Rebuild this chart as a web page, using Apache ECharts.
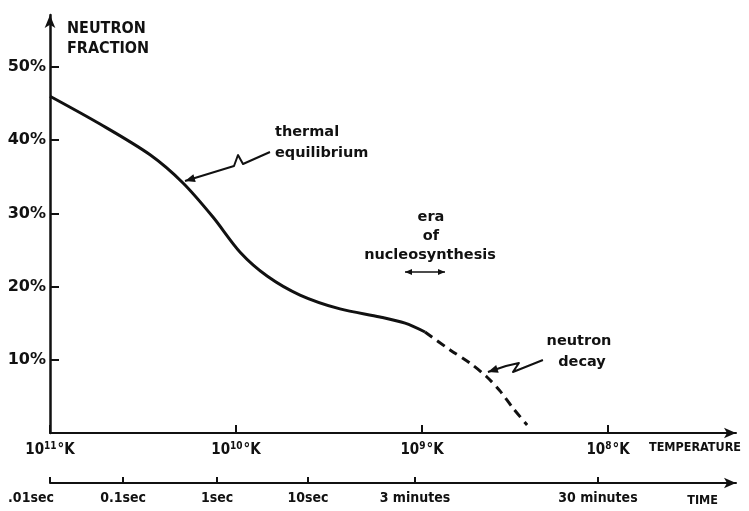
<!DOCTYPE html>
<html><head><meta charset="utf-8">
<script src="https://cdn.jsdelivr.net/npm/echarts@6/dist/echarts.min.js"></script>
<style>html,body{margin:0;padding:0;background:#fff}#c{width:749px;height:511px}</style>
</head><body><div id="c"></div>
<script>
// ---- data (temperature as log10 of kelvin, neutron fraction in %) ----
const equilTempExp = [11.0, 10.731, 10.462, 10.285, 10.124, 9.978, 9.833, 9.656, 9.441, 9.226, 9.091, 8.984];
const equilPct     = [46.0, 42.2, 38.0, 34.15, 29.5, 24.7, 21.45, 18.85, 16.95, 15.85, 15.0, 13.8];
const decayTempExp = [8.984, 8.849, 8.742, 8.651, 8.581, 8.511, 8.435];
const decayPct     = [13.8, 11.35, 9.55, 7.65, 5.75, 3.4, 1.1];
const tempTickExp  = [11, 10, 9, 8];
const yTicks       = [10, 20, 30, 40, 50];
const timeLabels   = ['.01sec', '0.1sec', '1sec', '10sec', '3 minutes', '30 minutes'];
const timeTickExp  = [11, 10.607, 10.102, 9.613, 9.038, 8.054];

const INK = '#111';
const FONT = '"DejaVu Sans", sans-serif';
const COND = '"DejaVu Sans Condensed", "Liberation Sans Narrow", "DejaVu Sans", sans-serif';
const toX = e => -e;

const chart = echarts.init(document.getElementById('c'), null, {renderer: 'canvas'});

const option = {
  backgroundColor: '#fff',
  animation: false,
  grid: {left: 50, right: 13, top: 15, bottom: 78, containLabel: false, outerBoundsMode: 'none'},
  xAxis: [{
    type: 'value', min: -11, max: -7.312, position: 'bottom',
    splitLine: {show: false},
    axisLine: {show: true, onZero: false, symbol: ['none', 'arrow'], symbolSize: [8, 12], lineStyle: {color: INK, width: 2}},
    axisTick: {show: true, inside: true, length: 8, lineStyle: {color: INK, width: 2}, customValues: tempTickExp.map(toX)},
    axisLabel: {
      show: true, margin: 8, color: INK, fontFamily: COND, fontWeight: 'bold', fontSize: 15,
      customValues: tempTickExp.map(toX),
      formatter: v => '{n|10}{e|' + Math.round(-v) + '}{n|°K}',
      rich: {
        n: {fontFamily: COND, fontWeight: 'bold', fontSize: 15, color: INK, lineHeight: 18},
        e: {fontFamily: COND, fontWeight: 'bold', fontSize: 10, color: INK, verticalAlign: 'top', lineHeight: 18, padding: [0, 1, 7, 0]}
      }
    }
  }, {
    type: 'value', min: -11, max: -7.312, position: 'bottom', offset: 50,
    splitLine: {show: false},
    axisLine: {show: true, onZero: false, symbol: ['none', 'arrow'], symbolSize: [8, 12], lineStyle: {color: INK, width: 2}},
    axisTick: {show: true, inside: true, length: 6, lineStyle: {color: INK, width: 2}, customValues: timeTickExp.map(toX)},
    axisLabel: {
      show: true, margin: 8, color: INK, fontFamily: COND, fontWeight: 'bold', fontSize: 14,
      customValues: timeTickExp.map(toX),
      formatter: v => {
        const i = timeTickExp.findIndex(t => Math.abs(-t - v) < 1e-6);
        const s = i >= 0 ? timeLabels[i] : '';
        return i === 0 ? '{f|' + s + '}' : s;
      },
      rich: {f: {fontFamily: COND, fontWeight: 'bold', fontSize: 14, color: INK, padding: [0, 38, 0, 0]}}
    }
  }],
  yAxis: {
    type: 'value', min: 0, max: 57.1,
    splitLine: {show: false},
    axisLine: {show: true, symbol: ['none', 'arrow'], symbolSize: [8, 13], lineStyle: {color: INK, width: 2.5}},
    axisTick: {show: true, inside: true, length: 9, lineStyle: {color: INK, width: 2}, customValues: yTicks},
    axisLabel: {show: true, margin: 4, color: INK, fontFamily: FONT, fontWeight: 'bold', fontSize: 16,
      customValues: yTicks, formatter: v => v + '%'}
  },
  series: [{
    type: 'line', xAxisIndex: 0, yAxisIndex: 0, symbol: 'none', smooth: 0.3, silent: true,
    data: equilTempExp.map((e, i) => [toX(e), equilPct[i]]),
    lineStyle: {color: INK, width: 3}
  }, {
    type: 'line', xAxisIndex: 0, yAxisIndex: 0, symbol: 'none', smooth: 0.3, silent: true,
    data: decayTempExp.map((e, i) => [toX(e), decayPct[i]]),
    lineStyle: {color: INK, width: 3, type: [9, 6]}
  }]
};
chart.setOption(option);

// ---- annotations ----
function px(e, p) { return chart.convertToPixel({xAxisIndex: 0, yAxisIndex: 0}, [toX(e), p]); }
function arrowHead(tip, from, len, hw) {
  const dx = tip[0] - from[0], dy = tip[1] - from[1];
  const L = Math.hypot(dx, dy), ux = dx / L, uy = dy / L;
  const bx = tip[0] - ux * len, by = tip[1] - uy * len;
  return {type: 'polygon', silent: true, shape: {points: [tip, [bx - uy * hw, by + ux * hw], [bx + uy * hw, by - ux * hw]]},
    style: {fill: INK}};
}
function leader(tip, rel) {
  const pts = rel.map(r => [tip[0] + r[0], tip[1] + r[1]]);
  return [
    {type: 'polyline', silent: true, shape: {points: pts}, style: {stroke: INK, lineWidth: 2, fill: null, lineJoin: 'round'}},
    arrowHead(pts[pts.length - 1], pts[pts.length - 2], 10, 4)
  ];
}
function txt(text, x, y, align, size, font) {
  return {type: 'text', silent: true, style: {text: text, x: x, y: y, align: align || 'left', verticalAlign: 'middle',
    font: 'bold ' + (size || 14.5) + 'px ' + (font || FONT), fill: INK}};
}
const tTip = px(equilTempExp[3], equilPct[3]);
const dTip = px(decayTempExp[3], decayPct[3]);
const g = [];
g.push(...leader(tTip, [[87, -31], [60, -19], [55, -28], [51, -17], [2, -2]]));
g.push(...leader(dTip, [[56, -17], [26, -5], [32, -14], [19, -11], [1, -5]]));
// era of nucleosynthesis double arrow
const aL = [405, 272], aR = [445, 272];
g.push({type: 'line', silent: true, shape: {x1: aL[0], y1: aL[1], x2: aR[0], y2: aR[1]}, style: {stroke: INK, lineWidth: 1.6}});
g.push(arrowHead(aL, aR, 7, 3));
g.push(arrowHead(aR, aL, 7, 3));
g.push(txt('thermal', 275, 132));
g.push(txt('equilibrium', 275, 153));
g.push(txt('era', 431, 217, 'center'));
g.push(txt('of', 431, 236, 'center'));
g.push(txt('nucleosynthesis', 430, 255, 'center'));
g.push(txt('neutron', 579, 341, 'center'));
g.push(txt('decay', 582, 362, 'center'));
g.push({type: 'text', silent: true, style: {text: 'NEUTRON\nFRACTION', x: 67, y: 19, align: 'left', verticalAlign: 'top',
  font: 'bold 16px ' + COND, lineHeight: 20, fill: INK}});
g.push(txt('TEMPERATURE', 741, 448, 'right', 12.5, COND));
g.push(txt('TIME', 718, 501, 'right', 12.5, COND));
chart.setOption({graphic: {elements: g}});
</script>
</body></html>
